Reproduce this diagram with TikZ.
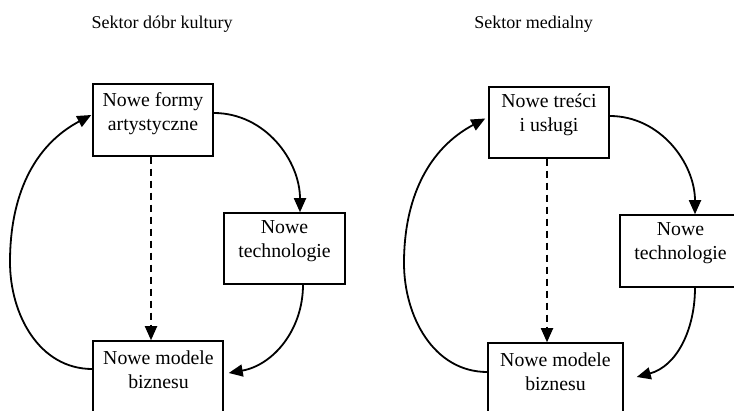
\documentclass[tikz,border=0pt]{standalone}
\usepackage{fontspec}
\setmainfont{Liberation Serif}
\usetikzlibrary{arrows.meta}
\begin{document}
\begin{tikzpicture}[x=1pt,y=1pt,
  box/.style={draw,line width=1.5pt,inner sep=0pt},
  lbl/.style={font=\fontsize{19.8}{24}\selectfont,align=center,inner sep=0pt},
  ttl/.style={font=\fontsize{18}{22}\selectfont,inner sep=0pt,anchor=base},
  arr/.style={line width=1.8pt,-{Triangle[length=14pt,width=12pt]}},
  darr/.style={arr,dash pattern=on 7pt off 5pt}]
\useasboundingbox (0,0) rectangle (734,-411);
\clip (0,0) rectangle (734,-411);
% titles
\node[ttl] (t1) at (162,-29) {Sektor dóbr kultury};
\node[ttl] (t2) at (533.5,-29) {Sektor medialny};
% left diagram
\node[box,minimum width=120pt,minimum height=72pt] (A1) at (153,-120) {};
\node[lbl] (A1t) at (153,-114) {Nowe formy\\artystyczne};
\node[box,minimum width=121pt,minimum height=71pt] (T1) at (284.5,-248.5) {};
\node[lbl] (T1t) at (284.5,-241.5) {Nowe\\technologie};
\node[box,minimum width=130pt,minimum height=72pt] (B1) at (158,-377) {};
\node[lbl] (B1t) at (158.5,-370) {Nowe modele\\biznesu};
\coordinate (cL) at (10,-262);
\draw[arr] ([yshift=7pt]A1.east) to[out=0,in=90] ([xshift=15.5pt]T1.north);
\draw[arr] ([xshift=18.5pt]T1.south) to[out=-90,in=10] ([xshift=5pt,yshift=4pt]B1.east);
\draw[darr] ([xshift=-2pt]A1.south) -- ([xshift=-2pt]A1.south |- B1.north);
\draw[arr] ([yshift=8pt]B1.west) to[out=180,in=-90] (cL) to[out=90,in=-152] ([xshift=-1pt,yshift=5pt]A1.west);
% right diagram
\node[box,minimum width=120pt,minimum height=71pt] (A2) at (549,-122.5) {};
\node[lbl] (A2t) at (549,-115) {Nowe treści\\i usługi};
\node[box,minimum width=121pt,minimum height=72pt] (T2) at (680.5,-251) {};
\node[lbl] (T2t) at (680.5,-243.5) {Nowe\\technologie};
\node[box,minimum width=135pt,minimum height=72pt] (B2) at (555.5,-379) {};
\node[lbl] (B2t) at (555.5,-371.5) {Nowe modele\\biznesu};
\coordinate (cR) at (404,-263);
\draw[arr] ([yshift=6.5pt]A2.east) to[out=0,in=90] ([xshift=14.5pt]T2.north);
\draw[arr] ([xshift=14.5pt]T2.south) to[out=-90,in=15] ([xshift=13pt,yshift=2pt]B2.east);
\draw[darr] ([xshift=-2pt]A2.south) -- ([xshift=-2pt]A2.south |- B2.north);
\draw[arr] ([yshift=7pt]B2.west) to[out=180,in=-90] (cR) to[out=90,in=-152] ([xshift=-3pt,yshift=4pt]A2.west);
\end{tikzpicture}
\end{document}
